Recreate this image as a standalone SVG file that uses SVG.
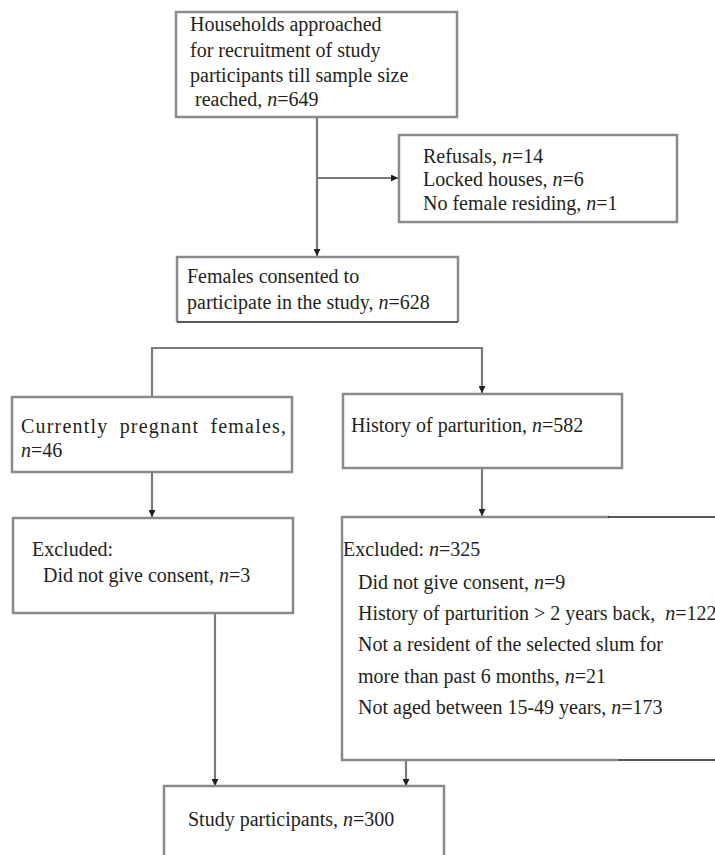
<svg xmlns="http://www.w3.org/2000/svg" width="715" height="855" viewBox="0 0 715 855">
  <defs>
    <marker id="ah" viewBox="0 0 8 8" refX="8" refY="4" markerWidth="7" markerHeight="7" markerUnits="userSpaceOnUse" orient="auto">
      <path d="M0,0 L8,4 L0,8 Z" fill="#231f20"/>
    </marker>
    <style>
      .box { fill: #ffffff; stroke: #8a8a8a; stroke-width: 2.5; }
      .edge { stroke: #8a8a8a; stroke-width: 2.5; fill: none; }
      .dark { stroke: #231f20; stroke-width: 1.6; fill: none; }
      .conn { stroke: #7a7a7a; stroke-width: 2.2; fill: none; }
      .arr { marker-end: url(#ah); }
      text { font-family: "Liberation Serif", "Times New Roman", serif; font-size: 20px; fill: #231f20; }
      .i { font-style: italic; }
    </style>
  </defs>
  <rect width="715" height="855" fill="#ffffff"/>

  <g id="connectors">
    <path class="conn arr" d="M317,117 V256"/>
    <path class="conn arr" d="M317,178 H398"/>
    <path class="conn arr" d="M152,396 V348 H482 V393"/>
    <path class="conn arr" d="M152,472 V517"/>
    <path class="conn arr" d="M482,468 V516"/>
    <path class="conn arr" d="M215,613 V786"/>
    <path class="conn arr" d="M406,760 V786"/>
  </g>

  <g id="node-households">
    <rect class="box" x="176" y="12" width="281" height="105"/>
    <text x="190" y="31">Households approached</text>
    <text x="190" y="57">for recruitment of study</text>
    <text x="190" y="82">participants till sample size</text>
    <text x="195" y="106">reached, <tspan class="i">n</tspan>=649</text>
  </g>

  <g id="node-refusals">
    <rect class="box" x="399" y="135" width="278" height="87"/>
    <text x="423" y="163">Refusals, <tspan class="i">n</tspan>=14</text>
    <text x="423" y="186">Locked houses, <tspan class="i">n</tspan>=6</text>
    <text x="423" y="210">No female residing, <tspan class="i">n</tspan>=1</text>
  </g>

  <g id="node-consented">
    <path class="edge" d="M177,322 V257 H458 V322"/>
    <path class="dark" d="M177,322 H458"/>
    <text x="187" y="283">Females consented to</text>
    <text x="187" y="309">participate in the study, <tspan class="i">n</tspan>=628</text>
  </g>

  <g id="node-pregnant">
    <rect class="box" x="12" y="397" width="280" height="75"/>
    <text x="21" y="433" style="letter-spacing:1.2px; word-spacing:5px">Currently pregnant females,</text>
    <text x="21" y="457"><tspan class="i">n</tspan>=46</text>
  </g>

  <g id="node-parturition">
    <rect class="box" x="343" y="394" width="279" height="74"/>
    <text x="351" y="432">History of parturition, <tspan class="i">n</tspan>=582</text>
  </g>

  <g id="node-excluded-left">
    <rect class="box" x="13" y="518" width="280" height="95"/>
    <text x="32" y="556">Excluded:</text>
    <text x="43" y="582">Did not give consent, <tspan class="i">n</tspan>=3</text>
  </g>

  <g id="node-excluded-right">
    <path class="edge" d="M609,517 H342 V760 H620"/>
    <path class="dark" d="M608,517 H715"/>
    <path class="dark" d="M619,760 H715"/>
    <text x="343" y="556">Excluded: <tspan class="i">n</tspan>=325</text>
    <text x="358" y="589">Did not give consent, <tspan class="i">n</tspan>=9</text>
    <text x="358" y="620">History of parturition &gt; 2 years back,&#160; <tspan class="i">n</tspan>=122</text>
    <text x="358" y="651">Not a resident of the selected slum for</text>
    <text x="358" y="683">more than past 6 months, <tspan class="i">n</tspan>=21</text>
    <text x="358" y="714">Not aged between 15-49 years, <tspan class="i">n</tspan>=173</text>
  </g>

  <g id="node-study">
    <rect class="box" x="164" y="786" width="280" height="80"/>
    <text x="188" y="826">Study participants, <tspan class="i">n</tspan>=300</text>
  </g>
</svg>
